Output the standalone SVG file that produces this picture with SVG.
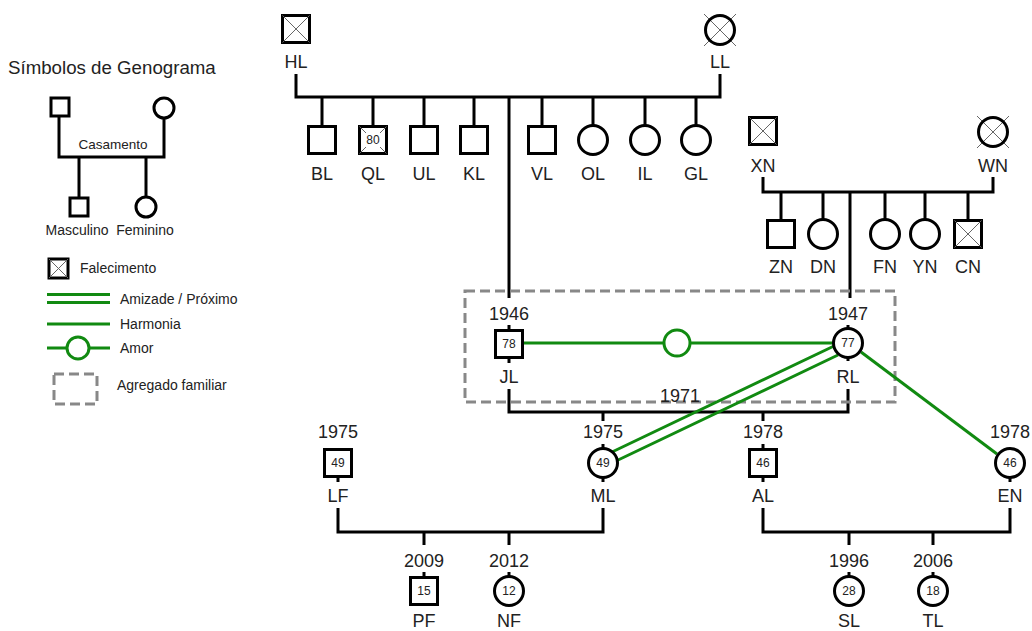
<svg xmlns="http://www.w3.org/2000/svg" width="1032" height="631" viewBox="0 0 1032 631">
<style>
text{font-family:"Liberation Sans",Arial,sans-serif;fill:#222}
.lbl{font-size:18px;text-anchor:middle}
.age{font-size:12px;text-anchor:middle}
.lg{font-size:14px}
.ln{stroke:#000;stroke-width:3;fill:none;stroke-linejoin:miter}
.nd{stroke:#000;stroke-width:3;fill:#fff}
.x{stroke:#666;stroke-width:1}
.g{stroke:#118a11;stroke-width:3;fill:none}
.box{stroke:#888;stroke-width:3;fill:none;stroke-dasharray:10 5}
</style>
<rect width="1032" height="631" fill="#fff"/>

<g id="legend">
<text x="8" y="74" style="font-size:18.7px">Símbolos de Genograma</text>
<path class="ln" d="M59 117 V157 H164 V118 M79 157 V197 M146 157 V197"/>
<rect class="nd" x="51" y="98" width="18" height="18"/>
<circle class="nd" cx="164" cy="108" r="10"/>
<rect class="nd" x="70" y="198" width="18" height="18"/>
<circle class="nd" cx="146" cy="207" r="10"/>
<text class="lg" x="113" y="149" text-anchor="middle" style="font-size:13.5px">Casamento</text>
<text class="lg" x="77" y="235" text-anchor="middle">Masculino</text>
<text class="lg" x="145" y="235" text-anchor="middle">Feminino</text>
<rect class="nd" x="49" y="259" width="19" height="19"/>
<path class="x" d="M49 259 L68 278 M68 259 L49 278"/>
<text class="lg" x="80" y="273">Falecimento</text>
<path class="g" d="M47 294.5 H110 M47 302.5 H110"/>
<text class="lg" x="120" y="304">Amizade / Próximo</text>
<path class="g" d="M47 324 H110"/>
<text class="lg" x="120" y="329">Harmonia</text>
<path class="g" d="M47 348 H67 M89 348 H110"/>
<circle cx="78" cy="348" r="11" fill="#fff" stroke="#118a11" stroke-width="3"/>
<text class="lg" x="120" y="353">Amor</text>
<rect class="box" x="54" y="374" width="43" height="30"/>
<text class="lg" x="117" y="390">Agregado familiar</text>
</g>

<g id="connectors">
<path class="ln" d="M296 74 V97 H720 V74 M322 97 V126 M373 97 V126 M424 97 V126 M474 97 V126 M542 97 V126 M593 97 V126 M645 97 V126 M696 97 V126"/>
<path class="ln" d="M509 97 V298"/>
<path class="ln" d="M763 177 V192 H993 V177 M781 192 V220 M823 192 V220 M885 192 V220 M925 192 V220 M968 192 V220"/>
<path class="ln" d="M850 192 V298"/>
<path class="ln" d="M509 389 V412 H848 V389 M603 412 V421 M763 412 V421"/>
<path class="ln" d="M338 508 V532 H603 V508 M424 532 V545 M509 532 V545"/>
<path class="ln" d="M763 508 V532 H1010 V508 M849 532 V545 M933 532 V545"/>
<rect class="box" x="465" y="291" width="430" height="111"/>
<path class="g" d="M524 343 H664 M690 343 H834"/>
<circle cx="677" cy="343" r="13" fill="#fff" stroke="#118a11" stroke-width="3"/>
<path class="g" d="M612 452 L834 346 M616 461 L838 355"/>
<path class="g" d="M861 352 L997 454"/>
</g>

<g id="HL"><rect class="nd" x="282.5" y="15.5" width="27" height="27"/><path class="x" d="M282.5 15.5 L309.5 42.5 M309.5 15.5 L282.5 42.5"/><text class="lbl" x="296" y="68">HL</text></g>
<g id="LL"><path class="x" d="M704 14 L736 46 M736 14 L704 46"/><circle cx="720" cy="30" r="14.5" fill="none" stroke="#000" stroke-width="3"/><text class="lbl" x="720" y="68">LL</text></g>
<g id="BL"><rect class="nd" x="308.5" y="126.5" width="27" height="27"/><text class="lbl" x="322" y="180">BL</text></g>
<g id="QL"><rect class="nd" x="359.5" y="126.5" width="27" height="27"/><path class="x" d="M359.5 126.5 L386.5 153.5 M386.5 126.5 L359.5 153.5"/><rect x="364" y="133" width="18" height="14" fill="#fff"/><text class="age" x="373" y="144">80</text><text class="lbl" x="373" y="180">QL</text></g>
<g id="UL"><rect class="nd" x="410.5" y="126.5" width="27" height="27"/><text class="lbl" x="424" y="180">UL</text></g>
<g id="KL"><rect class="nd" x="460.5" y="126.5" width="27" height="27"/><text class="lbl" x="474" y="180">KL</text></g>
<g id="VL"><rect class="nd" x="528.5" y="126.5" width="27" height="27"/><text class="lbl" x="542" y="180">VL</text></g>
<g id="OL"><circle class="nd" cx="593" cy="140" r="14.5"/><text class="lbl" x="593" y="180">OL</text></g>
<g id="IL"><circle class="nd" cx="645" cy="140" r="14.5"/><text class="lbl" x="645" y="180">IL</text></g>
<g id="GL"><circle class="nd" cx="696" cy="140" r="14.5"/><text class="lbl" x="696" y="180">GL</text></g>

<g id="XN"><rect class="nd" x="749.5" y="117.5" width="27" height="27"/><path class="x" d="M749.5 117.5 L776.5 144.5 M776.5 117.5 L749.5 144.5"/><text class="lbl" x="763" y="172">XN</text></g>
<g id="WN"><path class="x" d="M977 116 L1009 148 M1009 116 L977 148"/><circle cx="993" cy="132" r="14.5" fill="none" stroke="#000" stroke-width="3"/><text class="lbl" x="993" y="172">WN</text></g>
<g id="ZN"><rect class="nd" x="767.5" y="220.5" width="27" height="27"/><text class="lbl" x="781" y="273">ZN</text></g>
<g id="DN"><circle class="nd" cx="823" cy="234" r="14.5"/><text class="lbl" x="823" y="273">DN</text></g>
<g id="FN"><circle class="nd" cx="885" cy="234" r="14.5"/><text class="lbl" x="885" y="273">FN</text></g>
<g id="YN"><circle class="nd" cx="925" cy="234" r="14.5"/><text class="lbl" x="925" y="273">YN</text></g>
<g id="CN"><rect class="nd" x="954.5" y="220.5" width="27" height="27"/><path class="x" d="M954.5 220.5 L981.5 247.5 M981.5 220.5 L954.5 247.5"/><text class="lbl" x="968" y="273">CN</text></g>

<g id="JL"><text class="lbl" x="509" y="320">1946</text><path class="ln" d="M509 325 V330 M509 358 V363"/><rect class="nd" x="495.5" y="330.5" width="27" height="27"/><text class="age" x="509" y="348">78</text><text class="lbl" x="509" y="383">JL</text></g>
<g id="RL"><text class="lbl" x="848" y="320">1947</text><path class="ln" d="M848 325 V330 M848 356 V361"/><circle class="nd" cx="848" cy="343" r="14.5"/><text class="age" x="848" y="347">77</text><text class="lbl" x="848" y="383">RL</text></g>
<text class="lbl" x="680" y="402">1971</text>

<g id="LF"><text class="lbl" x="338" y="438">1975</text><path class="ln" d="M338 477 V482"/><rect class="nd" x="324.5" y="449.5" width="27" height="27"/><text class="age" x="338" y="467">49</text><text class="lbl" x="338" y="502">LF</text></g>
<g id="ML"><text class="lbl" x="603" y="438">1975</text><path class="ln" d="M603 444 V450 M603 476 V482"/><circle class="nd" cx="603" cy="463" r="14.5"/><text class="age" x="603" y="467">49</text><text class="lbl" x="603" y="502">ML</text></g>
<g id="AL"><text class="lbl" x="763" y="438">1978</text><path class="ln" d="M763 444 V450 M763 476 V482"/><rect class="nd" x="749.5" y="449.5" width="27" height="27"/><text class="age" x="763" y="467">46</text><text class="lbl" x="763" y="502">AL</text></g>
<g id="EN"><text class="lbl" x="1010" y="438">1978</text><path class="ln" d="M1010 476 V482"/><circle class="nd" cx="1010" cy="463" r="14.5"/><text class="age" x="1010" y="467">46</text><text class="lbl" x="1010" y="502">EN</text></g>

<g id="PF"><text class="lbl" x="424" y="567">2009</text><path class="ln" d="M424 572 V578"/><rect class="nd" x="410.5" y="577.5" width="27" height="27"/><text class="age" x="424" y="595">15</text><text class="lbl" x="424" y="627">PF</text></g>
<g id="NF"><text class="lbl" x="509" y="567">2012</text><path class="ln" d="M509 572 V578"/><circle class="nd" cx="509" cy="591" r="14.5"/><text class="age" x="509" y="595">12</text><text class="lbl" x="509" y="627">NF</text></g>
<g id="SL"><text class="lbl" x="849" y="567">1996</text><path class="ln" d="M849 572 V578"/><circle class="nd" cx="849" cy="591" r="14.5"/><text class="age" x="849" y="595">28</text><text class="lbl" x="849" y="627">SL</text></g>
<g id="TL"><text class="lbl" x="933" y="567">2006</text><path class="ln" d="M933 572 V578"/><circle class="nd" cx="933" cy="591" r="14.5"/><text class="age" x="933" y="595">18</text><text class="lbl" x="933" y="627">TL</text></g>
</svg>
